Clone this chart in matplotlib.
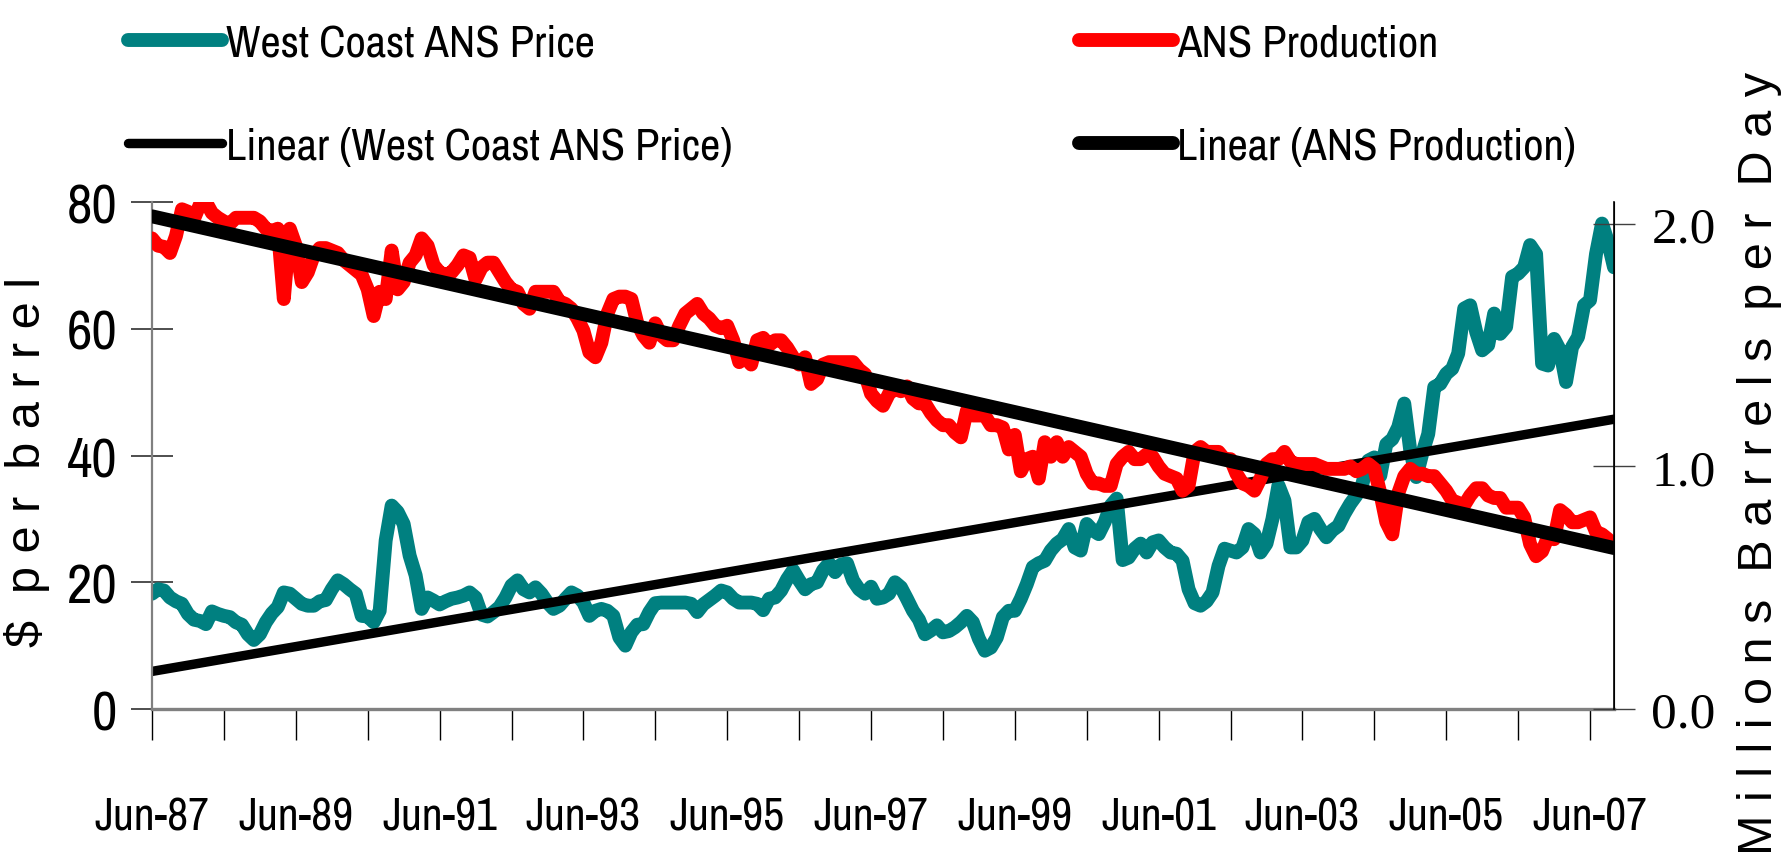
import numpy as np
import pandas as pd
import matplotlib
matplotlib.use('Agg')
import matplotlib.pyplot as plt
from matplotlib.lines import Line2D

plt.rcParams['font.family'] = ['Archivo Narrow', 'DejaVu Sans']
plt.rcParams['font.stretch'] = 'condensed'

# monthly data, Jun-87 .. Oct-07
months = pd.date_range('1987-06-01', periods=245, freq='MS')

price = [18.2, 18.9, 18.7, 17.6, 17.0, 16.6, 15.0, 14.1, 13.9, 13.4,
         15.4, 15.0, 14.7, 14.5, 13.7, 13.3, 11.8, 10.9, 11.8, 13.7,
         15.1, 16.1, 18.4, 18.2, 17.4, 16.6, 16.3, 16.3, 17.0, 17.2,
         18.9, 20.3, 19.7, 18.9, 18.2, 14.7, 14.6, 13.7, 15.5, 26.6,
         32.1, 31.1, 29.2, 24.2, 21.1, 15.8, 17.6, 17.1, 16.5, 17.0,
         17.4, 17.6, 17.9, 18.4, 17.6, 14.9, 14.6, 15.3, 16.1, 17.6,
         19.5, 20.3, 18.9, 18.4, 19.2, 18.2, 16.8, 15.8, 16.3, 17.4,
         18.4, 17.9, 16.8, 14.7, 15.5, 15.8, 15.5, 14.7, 11.3, 10.0,
         12.1, 13.3, 13.4, 15.3, 16.7, 16.8, 16.8, 16.8, 16.8, 16.8,
         16.6, 15.3, 16.5, 17.2, 17.9, 18.7, 18.4, 17.4, 16.8, 16.8,
         16.8, 16.6, 15.6, 17.4, 17.6, 18.7, 20.5, 21.9, 20.3, 18.9,
         19.7, 20.0, 21.9, 23.0, 21.6, 22.8, 23.0, 20.3, 18.9, 18.2,
         19.3, 17.4, 17.6, 18.2, 20.0, 19.2, 17.4, 15.5, 14.1, 11.8,
         12.4, 13.2, 12.1, 12.3, 12.9, 13.7, 14.7, 13.7, 11.1, 9.2,
         9.7, 11.3, 14.5, 15.5, 15.5, 17.4, 19.7, 22.4, 23.0, 23.4,
         25.0, 26.1, 26.8, 28.4, 25.5, 25.0, 29.2, 28.2, 27.6, 29.5,
         32.1, 33.2, 23.5, 23.9, 25.3, 26.1, 24.7, 26.3, 26.6, 25.5,
         24.7, 24.5, 23.4, 18.9, 16.7, 16.3, 17.0, 18.4, 22.6, 25.3,
         25.0, 24.7, 25.5, 28.4, 27.6, 24.7, 26.1, 30.0, 35.3, 32.9,
         25.5, 25.5, 26.6, 29.5, 30.0, 28.4, 27.1, 28.2, 28.9, 30.8,
         32.4, 33.7, 35.5, 39.2, 39.7, 36.8, 41.8, 42.6, 44.5, 48.2,
         40.8, 36.6, 40.3, 43.4, 50.8, 51.3, 52.9, 53.7, 56.1, 63.2,
         63.7, 59.5, 56.6, 57.4, 62.4, 59.2, 60.3, 68.2, 68.7, 69.7,
         73.2, 71.8, 54.5, 54.2, 58.4, 56.6, 51.6, 57.1, 58.7, 63.7,
         64.5, 71.8, 76.6, 73.7, 69.7]

production = [1.94, 1.91, 1.905, 1.88, 1.95, 2.06, 2.05, 2.02, 2.08, 2.09,
              2.045, 2.025, 2.01, 2.00, 2.025, 2.025, 2.025, 2.025, 2.01, 1.98,
              1.97, 1.98, 1.69, 1.98, 1.91, 1.76, 1.80, 1.87, 1.90, 1.90,
              1.89, 1.88, 1.85, 1.83, 1.81, 1.79, 1.73, 1.62, 1.72, 1.69,
              1.89, 1.73, 1.76, 1.84, 1.87, 1.94, 1.91, 1.83, 1.80, 1.79,
              1.80, 1.83, 1.87, 1.86, 1.77, 1.82, 1.84, 1.84, 1.80, 1.76,
              1.73, 1.72, 1.67, 1.65, 1.72, 1.72, 1.72, 1.72, 1.68, 1.67,
              1.65, 1.61, 1.56, 1.47, 1.45, 1.51, 1.63, 1.69, 1.70, 1.70,
              1.69, 1.59, 1.54, 1.51, 1.59, 1.54, 1.52, 1.52, 1.58, 1.63,
              1.65, 1.67, 1.63, 1.61, 1.58, 1.57, 1.58, 1.52, 1.43, 1.45,
              1.42, 1.52, 1.53, 1.50, 1.52, 1.52, 1.49, 1.45, 1.42, 1.45,
              1.34, 1.36, 1.42, 1.43, 1.43, 1.43, 1.43, 1.43, 1.40, 1.38,
              1.30, 1.27, 1.25, 1.30, 1.32, 1.31, 1.33, 1.28, 1.26, 1.26,
              1.22, 1.19, 1.17, 1.17, 1.14, 1.12, 1.23, 1.21, 1.21, 1.21,
              1.17, 1.17, 1.16, 1.07, 1.13, 0.98, 1.03, 1.04, 0.95, 1.10,
              1.04, 1.10, 1.04, 1.08, 1.06, 1.04, 0.97, 0.93, 0.93, 0.92,
              0.92, 1.01, 1.04, 1.06, 1.03, 1.03, 1.05, 1.04, 1.00, 0.97,
              0.96, 0.95, 0.90, 0.92, 1.06, 1.08, 1.06, 1.06, 1.06, 1.03,
              1.03, 0.97, 0.93, 0.92, 0.90, 0.95, 1.01, 1.03, 1.03, 1.06,
              1.02, 1.01, 1.01, 1.01, 1.01, 1.00, 0.99, 0.99, 0.99, 0.99,
              1.00, 0.98, 0.99, 1.01, 0.99, 0.89, 0.77, 0.72, 0.89, 0.96,
              0.99, 0.97, 0.97, 0.96, 0.96, 0.93, 0.90, 0.86, 0.85, 0.84,
              0.88, 0.91, 0.91, 0.88, 0.87, 0.87, 0.83, 0.83, 0.83, 0.79,
              0.68, 0.63, 0.65, 0.71, 0.70, 0.82, 0.80, 0.77, 0.77, 0.78,
              0.79, 0.73, 0.72, 0.70, 0.67]

x = np.arange(len(months))

# linear trend lines (like Excel's "Linear" trendline)
p_fit = np.polyfit(x, price, 1)
q_fit = np.polyfit(x, production, 1)

TEAL = '#008080'
RED = '#ff0000'
LW_DATA, LW_PTR, LW_QTR = 10, 6.8, 10

fig = plt.figure(figsize=(17.84, 8.53), dpi=100)
ax = fig.add_axes([0.0852, 0.1676, 0.8195, 0.5944])
ax2 = ax.twinx()

kw = dict(solid_capstyle='round', solid_joinstyle='round')
ax.plot(x, price, color=TEAL, lw=LW_DATA, **kw)
ax.plot(x, np.polyval(p_fit, x), color='black', lw=LW_PTR, **kw)
ax2.plot(x, production, color=RED, lw=LW_DATA, **kw)
ax2.plot(x, np.polyval(q_fit, x), color='black', lw=LW_QTR, **kw)

ax.set_xlim(0, len(x) - 1)
ax.set_ylim(0, 80)
ax2.set_ylim(0, 2.09)

# x ticks every year, labels every second year
ax.set_xticks(x[::12])
ax.set_xticklabels([m.strftime('%b-%y') if k % 2 == 0 else ''
                    for k, m in enumerate(months[::12])], fontsize=33)
ax.tick_params(axis='x', direction='out', length=22, width=1.0,
               color='black', pad=40)

ax.set_yticks([0, 20, 40, 60, 80])
ax.tick_params(axis='y', direction='inout', length=30, width=1.3,
               color='#404040', labelsize=40, pad=10)

ax2.set_yticks([0, 1, 2])
ax2.set_yticklabels(['0.0', '1.0', '2.0'], family=['Liberation Serif', 'DejaVu Serif'],
                    fontsize=37)
ax2.tick_params(axis='y', direction='inout', length=30, width=1.0,
                color='#404040', pad=12)

for a in (ax, ax2):
    a.spines['top'].set_visible(False)
ax.spines['left'].set_color('#808080')
ax.spines['left'].set_linewidth(1.6)
ax.spines['bottom'].set_color('#808080')
ax.spines['bottom'].set_linewidth(2.4)
ax2.spines['left'].set_visible(False)
ax2.spines['bottom'].set_visible(False)
ax2.spines['right'].set_color('black')
ax2.spines['right'].set_linewidth(1.2)

# letter-spaced axis titles
fig.text(40 / 1784, 0.458, '$  p e r  b a r r e l', rotation=90,
         rotation_mode='anchor', ha='center', va='baseline',
         fontsize=35, family=['Liberation Sans', 'DejaVu Sans'], stretch='normal')
fig.text(1772 / 1784, 0.916, 'M i l l i o n s  B a r r e l s  p e r  D a y',
         rotation=90, rotation_mode='anchor', ha='right', va='baseline',
         fontsize=35, family=['Liberation Sans', 'DejaVu Sans'], stretch='normal')

# legend in two columns at the top
h_price = Line2D([], [], color=TEAL, lw=LW_DATA, **kw)
h_prod = Line2D([], [], color=RED, lw=LW_DATA, **kw)
h_ptr = Line2D([], [], color='black', lw=LW_PTR, **kw)
h_qtr = Line2D([], [], color='black', lw=LW_QTR, **kw)
leg_kw = dict(loc='upper left', frameon=False, fontsize=32, borderpad=0,
              borderaxespad=0, handlelength=2.1, handletextpad=0.1,
              labelspacing=1.42)
fig.legend([h_price, h_ptr], ['West Coast ANS Price', 'Linear (West Coast ANS Price)'],
           bbox_to_anchor=(0.072, 0.971), **leg_kw)
fig.legend([h_prod, h_qtr], ['ANS Production', 'Linear (ANS Production)'],
           bbox_to_anchor=(0.605, 0.971), **leg_kw)

fig.savefig('out.png', dpi=100)
